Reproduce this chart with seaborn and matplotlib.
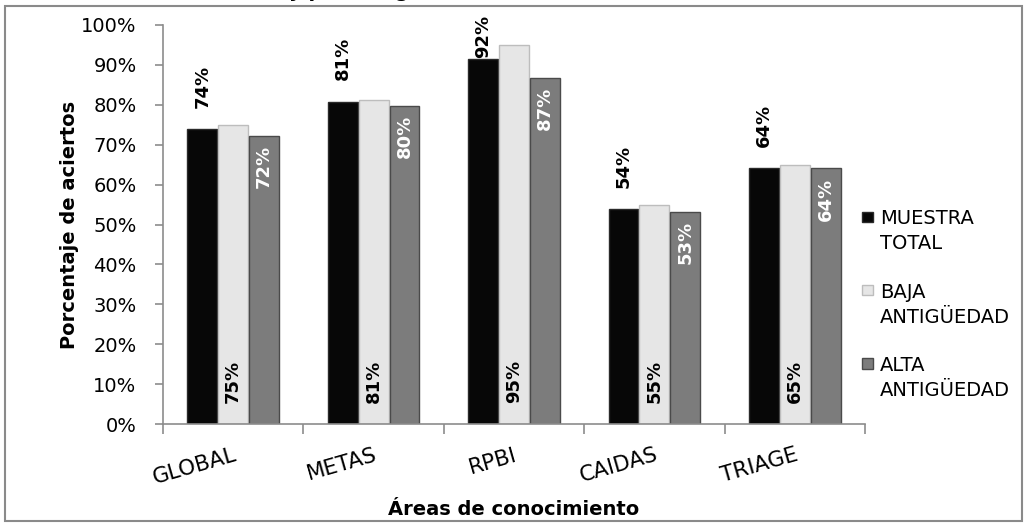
import seaborn as sns
import matplotlib.pyplot as plt
import matplotlib.patches as mpatches
from matplotlib.legend_handler import HandlerPatch
from matplotlib.ticker import PercentFormatter, FixedLocator
import pandas as pd

# ======================
# data
# ======================
areas = ["GLOBAL", "METAS", "RPBI", "CAIDAS", "TRIAGE"]
muestra_total = [0.739, 0.808, 0.915, 0.538, 0.641]
baja_antiguedad = [0.749, 0.812, 0.950, 0.548, 0.648]
alta_antiguedad = [0.722, 0.797, 0.867, 0.531, 0.641]
series_names = ["MUESTRA\nTOTAL", "BAJA\nANTIGÜEDAD", "ALTA\nANTIGÜEDAD"]

df = pd.DataFrame({
    "area": areas * 3,
    "valor": muestra_total + baja_antiguedad + alta_antiguedad,
    "serie": [s for s in series_names for _ in areas],
})

# ======================
# style
# ======================
sns.set_theme(style="white")
plt.rcParams["font.family"] = ["DejaVu Sans"]
plt.rcParams.update({
    "font.size": 14,
    "text.color": "black",
    "axes.labelcolor": "black",
    "xtick.labelcolor": "black",
    "ytick.labelcolor": "black",
})

colors = ["#070707", "#e6e6e6", "#7c7c7c"]
edges = ["#2a2a2a", "#bdbdbd", "#4a4a4a"]
axis_gray = "#8c8c8c"
fs = 14

fig = plt.figure(figsize=(10.28, 5.27), dpi=100)
ax = fig.add_axes([163 / 1028, 103 / 527, 702 / 1028, 399 / 527])

sns.barplot(data=df, x="area", y="valor", hue="serie", hue_order=series_names,
            palette=colors, width=0.66, gap=0.03, errorbar=None, ax=ax)

for cont, ec in zip(ax.containers, edges):
    for bar in cont:
        bar.set_edgecolor(ec)
        bar.set_linewidth(1.0)

# ===== labels =====
lab_kw = dict(rotation=90, fontsize=13, fontweight="bold", ha="center")
for bar in ax.containers[0]:
    h = bar.get_height()
    # outside end, but kept inside the chart area like Excel does
    ax.text(bar.get_x() + bar.get_width() / 2, min(h + 0.053, 0.917), f"{h:.0%}",
            va="bottom", color="black", clip_on=False, **lab_kw)
for bar in ax.containers[1]:
    h = bar.get_height()
    ax.text(bar.get_x() + bar.get_width() / 2, 0.053, f"{h:.0%}",
            va="bottom", color="black", **lab_kw)
for bar in ax.containers[2]:
    h = bar.get_height()
    ax.text(bar.get_x() + bar.get_width() / 2, h - 0.023, f"{h:.0%}",
            va="top", color="white", **lab_kw)

# ===== axes =====
ax.set_xlim(-0.5, len(areas) - 0.5)
ax.set_ylim(0, 1.0)
ax.set_yticks([i / 10 for i in range(11)])
ax.yaxis.set_major_formatter(PercentFormatter(1.0, decimals=0))
ax.tick_params(axis="y", which="major", length=6, width=1.2, color=axis_gray,
               left=True, labelsize=fs, pad=13)
ax.xaxis.set_minor_locator(FixedLocator([i - 0.5 for i in range(len(areas) + 1)]))
ax.tick_params(axis="x", which="major", length=0, pad=15, labelsize=15.5)
ax.tick_params(axis="x", which="minor", length=7, width=1.2, color=axis_gray,
               bottom=True)
for lbl in ax.get_xticklabels():
    lbl.set_rotation(16)
    lbl.set_ha("right")
    lbl.set_va("top")
    lbl.set_rotation_mode("anchor")

for side in ["top", "right"]:
    ax.spines[side].set_visible(False)
for side in ["left", "bottom"]:
    ax.spines[side].set_color(axis_gray)
    ax.spines[side].set_linewidth(1.2)

ax.set_ylabel("Porcentaje de aciertos", fontsize=fs, fontweight="bold")
ax.yaxis.set_label_coords(-0.12, 0.5)
ax.set_xlabel("Áreas de conocimiento", fontsize=fs, fontweight="bold")
ax.xaxis.set_label_coords(0.5, -0.19)


# ===== legend =====
def raised_square(legend, orig_handle, xdescent, ydescent, width, height, fontsize):
    s = 0.55 * fontsize
    return mpatches.Rectangle((-xdescent + 2, -ydescent + 0.85 * fontsize), s, s)


handles = [mpatches.Patch(facecolor=c, edgecolor=e) for c, e in zip(colors, edges)]
leg = ax.legend(handles, series_names, loc="upper left", bbox_to_anchor=(0.992, 0.538),
                frameon=False, fontsize=fs, handlelength=0.8, handletextpad=0.25,
                labelspacing=1.5, borderaxespad=0, borderpad=0,
                handler_map={mpatches.Patch: HandlerPatch(patch_func=raised_square)})
for t in leg.get_texts():
    t.set_linespacing(1.4)

# ===== frame and clipped title =====
fig.patches.append(mpatches.Rectangle((5 / 1028, 6 / 527), 1017 / 1028, 515 / 527,
                                      transform=fig.transFigure, fill=False,
                                      edgecolor="#8a8a8a", linewidth=1.5))
fig.text(0.452, 1 - 1 / 527, "y por antigüedad de enfermería",
         ha="center", va="bottom", fontsize=fs, fontweight="bold")

fig.savefig("out.png", dpi=100)
